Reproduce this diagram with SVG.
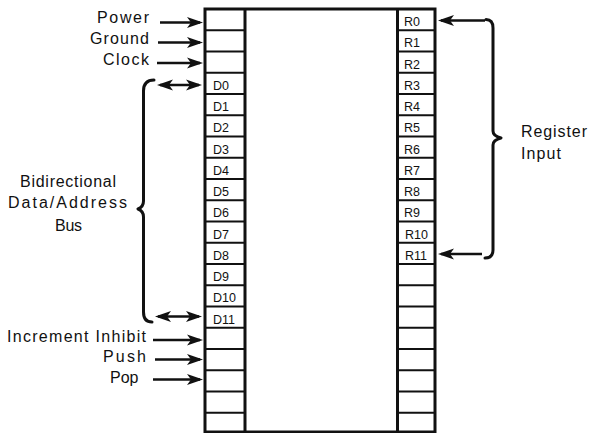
<svg xmlns="http://www.w3.org/2000/svg" width="589" height="433" viewBox="0 0 589 433">
<style>
  .lbl { font-family: "Liberation Sans", Arial, sans-serif; font-size: 16px; fill: #111; }
  .cell { font-family: "Liberation Sans", Arial, sans-serif; font-size: 12.5px; fill: #111; }
  .row { stroke: #111; stroke-width: 2; fill: none; }
  .wall { stroke: #111; stroke-width: 3; fill: none; }
  .arr { stroke: #111; stroke-width: 2.6; fill: none; marker-end: url(#ah); }
  .arr2 { stroke: #111; stroke-width: 2.6; fill: none; marker-start: url(#ah); marker-end: url(#ah); }
  .brace { stroke: #111; stroke-width: 3; fill: none; stroke-linecap: round; stroke-linejoin: round; }
</style>
<defs>
  <marker id="ah" viewBox="0 0 16 12" refX="13" refY="6" markerWidth="16" markerHeight="12" markerUnits="userSpaceOnUse" orient="auto-start-reverse">
    <path d="M0,0.5 L16,6 L0,11.5 L4,6 z" fill="#111"/>
  </marker>
</defs>
<rect x="0" y="0" width="589" height="433" fill="#fff"/>

<g id="chip">
  <rect x="205" y="9" width="230" height="423" fill="#fff" stroke="#111" stroke-width="3"/>
  <line class="wall" x1="245" y1="9" x2="245" y2="432"/>
  <line class="wall" x1="397.5" y1="9" x2="397.5" y2="432"/>
  <g id="left-cells">
    <line class="row" x1="205" x2="245" y1="30.25" y2="30.25"/>
    <line class="row" x1="205" x2="245" y1="51.5" y2="51.5"/>
    <line class="row" x1="205" x2="245" y1="72.75" y2="72.75"/>
    <line class="row" x1="205" x2="245" y1="94" y2="94"/>
    <line class="row" x1="205" x2="245" y1="115.25" y2="115.25"/>
    <line class="row" x1="205" x2="245" y1="136.5" y2="136.5"/>
    <line class="row" x1="205" x2="245" y1="157.75" y2="157.75"/>
    <line class="row" x1="205" x2="245" y1="179" y2="179"/>
    <line class="row" x1="205" x2="245" y1="200.25" y2="200.25"/>
    <line class="row" x1="205" x2="245" y1="221.5" y2="221.5"/>
    <line class="row" x1="205" x2="245" y1="242.75" y2="242.75"/>
    <line class="row" x1="205" x2="245" y1="264" y2="264"/>
    <line class="row" x1="205" x2="245" y1="285.25" y2="285.25"/>
    <line class="row" x1="205" x2="245" y1="306.5" y2="306.5"/>
    <line class="row" x1="205" x2="245" y1="327.75" y2="327.75"/>
    <line class="row" x1="205" x2="245" y1="349" y2="349"/>
    <line class="row" x1="205" x2="245" y1="370.25" y2="370.25"/>
    <line class="row" x1="205" x2="245" y1="391.5" y2="391.5"/>
    <line class="row" x1="205" x2="245" y1="412.75" y2="412.75"/>
    <text class="cell" x="213" y="89.75">D0</text>
    <text class="cell" x="213" y="111">D1</text>
    <text class="cell" x="213" y="132.25">D2</text>
    <text class="cell" x="213" y="153.5">D3</text>
    <text class="cell" x="213" y="174.75">D4</text>
    <text class="cell" x="213" y="196">D5</text>
    <text class="cell" x="213" y="217.25">D6</text>
    <text class="cell" x="213" y="238.5">D7</text>
    <text class="cell" x="213" y="259.75">D8</text>
    <text class="cell" x="213" y="281">D9</text>
    <text class="cell" x="213" y="302.25">D10</text>
    <text class="cell" x="213" y="323.5">D11</text>
  </g>
  <g id="right-cells">
    <line class="row" x1="397.5" x2="435" y1="30.25" y2="30.25"/>
    <line class="row" x1="397.5" x2="435" y1="51.5" y2="51.5"/>
    <line class="row" x1="397.5" x2="435" y1="72.75" y2="72.75"/>
    <line class="row" x1="397.5" x2="435" y1="94" y2="94"/>
    <line class="row" x1="397.5" x2="435" y1="115.25" y2="115.25"/>
    <line class="row" x1="397.5" x2="435" y1="136.5" y2="136.5"/>
    <line class="row" x1="397.5" x2="435" y1="157.75" y2="157.75"/>
    <line class="row" x1="397.5" x2="435" y1="179" y2="179"/>
    <line class="row" x1="397.5" x2="435" y1="200.25" y2="200.25"/>
    <line class="row" x1="397.5" x2="435" y1="221.5" y2="221.5"/>
    <line class="row" x1="397.5" x2="435" y1="242.75" y2="242.75"/>
    <line class="row" x1="397.5" x2="435" y1="264" y2="264"/>
    <line class="row" x1="397.5" x2="435" y1="285.25" y2="285.25"/>
    <line class="row" x1="397.5" x2="435" y1="306.5" y2="306.5"/>
    <line class="row" x1="397.5" x2="435" y1="327.75" y2="327.75"/>
    <line class="row" x1="397.5" x2="435" y1="349" y2="349"/>
    <line class="row" x1="397.5" x2="435" y1="370.25" y2="370.25"/>
    <line class="row" x1="397.5" x2="435" y1="391.5" y2="391.5"/>
    <line class="row" x1="397.5" x2="435" y1="412.75" y2="412.75"/>
    <text class="cell" x="404" y="26">R0</text>
    <text class="cell" x="404" y="47.25">R1</text>
    <text class="cell" x="404" y="68.5">R2</text>
    <text class="cell" x="404" y="89.75">R3</text>
    <text class="cell" x="404" y="111">R4</text>
    <text class="cell" x="404" y="132.25">R5</text>
    <text class="cell" x="404" y="153.5">R6</text>
    <text class="cell" x="404" y="174.75">R7</text>
    <text class="cell" x="404" y="196">R8</text>
    <text class="cell" x="404" y="217.25">R9</text>
    <text class="cell" x="405" y="238.5">R10</text>
    <text class="cell" x="405" y="259.75">R11</text>
  </g>
</g>

<g id="label-power"><text class="lbl" x="97" y="23" textLength="52" lengthAdjust="spacing">Power</text></g>
<g id="label-ground"><text class="lbl" x="90" y="44" textLength="59" lengthAdjust="spacing">Ground</text></g>
<g id="label-clock"><text class="lbl" x="103" y="65" textLength="46" lengthAdjust="spacing">Clock</text></g>
<g id="label-bus">
  <text class="lbl" x="20" y="187" textLength="96" lengthAdjust="spacing">Bidirectional</text>
  <text class="lbl" x="8" y="207.5" textLength="119" lengthAdjust="spacing">Data/Address</text>
  <text class="lbl" x="55" y="230.5" textLength="27" lengthAdjust="spacing">Bus</text>
</g>
<g id="label-increment"><text class="lbl" x="7" y="341.5" textLength="139" lengthAdjust="spacing">Increment Inhibit</text></g>
<g id="label-push"><text class="lbl" x="103" y="362" textLength="43" lengthAdjust="spacing">Push</text></g>
<g id="label-pop"><text class="lbl" x="110" y="382.5">Pop</text></g>
<g id="label-register">
  <text class="lbl" x="521" y="137" textLength="66" lengthAdjust="spacing">Register</text>
  <text class="lbl" x="521" y="158.5" textLength="40" lengthAdjust="spacing">Input</text>
</g>

<g id="connectors">
  <path class="arr" d="M160,22.5 H200"/>
  <path class="arr" d="M158,42.5 H200"/>
  <path class="arr" d="M157,63 H200"/>
  <path class="arr2" d="M160,85 H199"/>
  <path class="arr2" d="M158,316.5 H199"/>
  <path class="arr" d="M153,340 H200"/>
  <path class="arr" d="M155,359.5 H200"/>
  <path class="arr" d="M153,379.5 H200"/>
  <path class="arr" d="M485,20.5 H441"/>
  <path class="arr" d="M482,254 H441"/>
  <path class="brace" d="M154,80 Q143.5,80 143.5,91 L143.5,201 Q143.5,207 138,209 Q143.5,211 143.5,217 L143.5,312 Q143.5,322 152,322"/>
  <path class="brace" d="M486,19.5 Q493,19.5 493,28 L493,131 Q493,136 501,138 Q493,140 493,145 L493,250 Q493,258 485,258"/>
</g>
</svg>
